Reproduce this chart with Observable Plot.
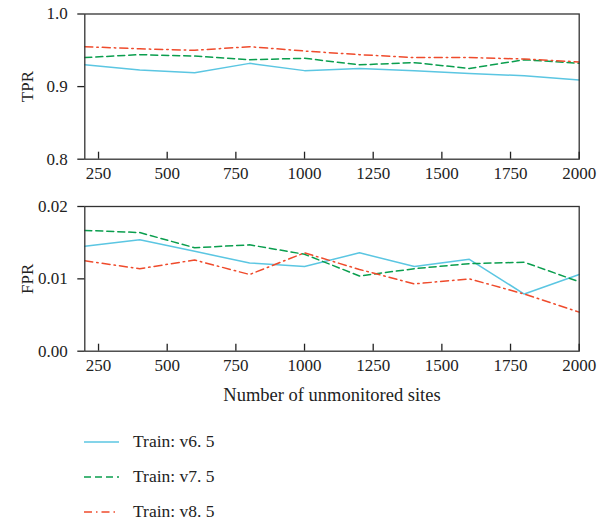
<!DOCTYPE html>
<html>
<head>
<meta charset="utf-8">
<script src="https://cdn.jsdelivr.net/npm/d3@7"></script>
<script src="https://cdn.jsdelivr.net/npm/@observablehq/plot@0.6"></script>
<style>
  body { margin: 0; background: #fff; }
  #chart { position: relative; width: 598px; height: 522px; font-family: "Liberation Serif", "DejaVu Serif", serif; color: #222; }
  #chart svg { display: block; }
  #legend { position: absolute; left: 84px; top: 424px; font-family: "Liberation Serif", "DejaVu Serif", serif; }
  .row { display: flex; align-items: center; height: 35px; font-size: 17.5px; }
  .row svg { margin-right: 14px; }
</style>
</head>
<body>
<div id="chart"><div id="legend"></div></div>
<script>
// ---- data ----
const sites = [200, 400, 600, 800, 1000, 1200, 1400, 1600, 1800, 2000];
const seriesNames = ["Train: v6. 5", "Train: v7. 5", "Train: v8. 5"];
const seriesColors = ["#5bc6e2", "#0a9e4e", "#ef4b2c"];
const seriesDash = ["none", "7,4", "8,4,1.5,4"];

const tprV65 = [0.930, 0.923, 0.919, 0.932, 0.922, 0.925, 0.922, 0.918, 0.915, 0.909];
const tprV75 = [0.940, 0.944, 0.942, 0.937, 0.939, 0.930, 0.933, 0.925, 0.937, 0.932];
const tprV85 = [0.955, 0.952, 0.950, 0.955, 0.949, 0.944, 0.940, 0.940, 0.938, 0.934];

const fprV65 = [0.0145, 0.0154, 0.0138, 0.0122, 0.0117, 0.0136, 0.0117, 0.0127, 0.0079, 0.0106];
const fprV75 = [0.0167, 0.0164, 0.0143, 0.0147, 0.0134, 0.0104, 0.0114, 0.0121, 0.0123, 0.0096];
const fprV85 = [0.0125, 0.0114, 0.0126, 0.0106, 0.0136, 0.0113, 0.0093, 0.0100, 0.0079, 0.0054];

const xDomain = [200, 2000];
const xTicks = [250, 500, 750, 1000, 1250, 1500, 1750, 2000];
const tprDomain = [0.8, 1.0];
const tprTicks = [0.8, 0.9, 1.0];
const fprDomain = [0, 0.02];
const fprTicks = [0, 0.01, 0.02];
const xLabel = "Number of unmonitored sites";

// ---- build ----
function rows(seriesArrays) {
  return seriesArrays.map(vals => sites.map((x, i) => ({x, y: vals[i]})));
}

function panel({series, yDomain, yTicks, yFormat, yLabel, height, marginTop, marginBottom, showXLabel}) {
  const lines = series.map((data, i) =>
    Plot.line(data, {x: "x", y: "y", stroke: seriesColors[i], strokeWidth: 1.5,
      strokeDasharray: seriesDash[i] === "none" ? undefined : seriesDash[i]}));
  const marks = [
    ...lines,
    Plot.frame({stroke: "#333", strokeWidth: 1.3}),
    Plot.axisY({ticks: yTicks, tickFormat: yFormat, tickSize: 7, tickPadding: 10,
      label: yLabel, labelAnchor: "center", labelOffset: 64, labelArrow: "none", strokeWidth: 1.3}),
    Plot.axisX({ticks: xTicks, tickFormat: d3.format("d"), tickSize: -7, tickPadding: 15,
      label: null, strokeWidth: 1.3})
  ];
  if (showXLabel) {
    marks.push(Plot.text([xLabel], {text: d => d, frameAnchor: "bottom", dy: 44,
      lineAnchor: "middle", fontSize: 18.5, fill: "#222"}));
  }
  return Plot.plot({
    width: 598,
    height,
    marginLeft: 84.3,
    marginRight: 19.3,
    marginTop,
    marginBottom,
    style: {fontFamily: '"Liberation Serif", "DejaVu Serif", serif', fontSize: "17px", color: "#222", background: "white", overflow: "visible"},
    x: {domain: xDomain},
    y: {domain: yDomain},
    marks
  });
}

const chart = document.getElementById("chart");
const legend = document.getElementById("legend");

chart.insertBefore(panel({
  series: rows([tprV65, tprV75, tprV85]),
  yDomain: tprDomain, yTicks: tprTicks, yFormat: d3.format(".1f"), yLabel: "TPR",
  height: 189, marginTop: 13.5, marginBottom: 30.3, showXLabel: false
}), legend);

chart.insertBefore(panel({
  series: rows([fprV65, fprV75, fprV85]),
  yDomain: fprDomain, yTicks: fprTicks, yFormat: d3.format(".2f"), yLabel: "FPR",
  height: 217, marginTop: 17, marginBottom: 55.3, showXLabel: true
}), legend);

seriesNames.forEach((name, i) => {
  const row = document.createElement("div");
  row.className = "row";
  const ns = "http://www.w3.org/2000/svg";
  const s = document.createElementNS(ns, "svg");
  s.setAttribute("width", 35); s.setAttribute("height", 4);
  const l = document.createElementNS(ns, "line");
  l.setAttribute("x1", 0); l.setAttribute("x2", 35); l.setAttribute("y1", 2); l.setAttribute("y2", 2);
  l.setAttribute("stroke", seriesColors[i]); l.setAttribute("stroke-width", 1.5);
  if (seriesDash[i] !== "none") l.setAttribute("stroke-dasharray", seriesDash[i]);
  s.appendChild(l);
  row.appendChild(s);
  const t = document.createElement("span");
  t.textContent = name;
  row.appendChild(t);
  legend.appendChild(row);
});
</script>
</body>
</html>
